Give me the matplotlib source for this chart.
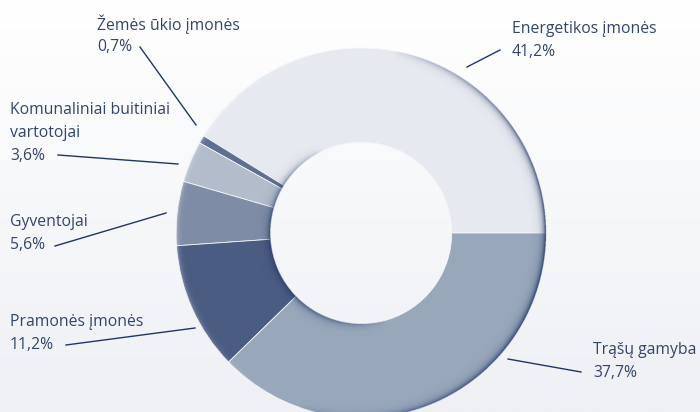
import numpy as np
import matplotlib.pyplot as plt
from matplotlib.colors import LinearSegmentedColormap, to_rgb

# data
categories = ["Energetikos įmonės", "Žemės ūkio įmonės", "Komunaliniai buitiniai\nvartotojai",
              "Gyventojai", "Pramonės įmonės", "Trąšų gamyba"]
shares = [41.2, 0.7, 3.6, 5.6, 11.2, 37.7]
pct_labels = ["41,2%", "0,7%", "3,6%", "5,6%", "11,2%", "37,7%"]

COLORS = ["#e6e9ef", "#5f6f8f", "#b2bccb", "#7e8ca5", "#4b5c82", "#98a7ba"]
TEXT_C = "#34456b"
LINE_C = "#1f3566"
SHADE_C = "#223866"

W, H = 700, 412
CX, CY, R = 361, H - 233, 185
R_IN = R * 0.49

# label layout in pixel coords (x, y of first line centre) and leader line ends
LABEL_POS = [(512, 29), (97, 24), (10, 110), (10, 222), (10, 322), (593, 350)]
LEADERS = [((467, 67), (500, 50)),
           ((196, 125), (140, 47)),
           ((178, 164), (58, 155)),
           ((166, 213), (55, 246)),
           ((195, 328), (66, 345)),
           ((508, 359), (581, 372))]

plt.rcParams["font.family"] = ["Open Sans", "DejaVu Sans"]

fig = plt.figure(figsize=(W / 100, H / 100), dpi=100)
ax = fig.add_axes([0, 0, 1, 1])

# soft background gradient, white at the top to pale grey-blue at the bottom
grad = np.linspace(0, 1, 256)[:, None]
ax.imshow(grad, extent=(0, W, 0, H), cmap=LinearSegmentedColormap.from_list(
    "bg", ["#eef0f4", "#ffffff"]), origin="lower", aspect="auto", zorder=0)

wedges, _ = ax.pie(shares, colors=COLORS, startangle=0, counterclock=True,
                   center=(CX, CY), radius=R, frame=True,
                   wedgeprops=dict(width=R - R_IN, edgecolor="#f4f6f9", linewidth=0.6))
for w in wedges:
    w.set_zorder(2)


def ang_fade(theta, mid, half):
    d = np.angle(np.exp(1j * np.radians(theta - mid)), deg=True)
    return np.clip(np.cos(np.clip(d / half, -1, 1) * np.pi / 2), 0, 1)


# bevel shading as an overlay image: dark outer rim on the right,
# shadowed hole edge on the left, faint highlight on the outer left edge
ss = 3
xs = (np.arange(W * ss) + 0.5) / ss
ys = (np.arange(H * ss) + 0.5) / ss
X, Y = np.meshgrid(xs, ys)
rr = np.hypot(X - CX, Y - CY)
th = np.degrees(np.arctan2(Y - CY, X - CX))
inside = (rr <= R) & (rr >= R_IN)

dark = 1.0 * ang_fade(th, -15, 95) ** 0.7 * np.exp(-(R - rr) / 3.0)
dark += 0.85 * ang_fade(th, 200, 85) ** 0.7 * np.exp(-(rr - R_IN) / 3.0)
dark = np.where(inside, np.clip(dark, 0, 1), 0)
light = np.where(inside, 0.45 * ang_fade(th, 175, 70) * np.exp(-(R - rr) / 2.0), 0)

ov = np.zeros((H * ss, W * ss, 4))
ov[..., :3] = to_rgb(SHADE_C)
ov[..., 3] = dark
ax.imshow(ov, extent=(0, W, 0, H), origin="lower", aspect="auto", zorder=3, interpolation="bilinear")
hl = np.ones((H * ss, W * ss, 4))
hl[..., 3] = light
ax.imshow(hl, extent=(0, W, 0, H), origin="lower", aspect="auto", zorder=3, interpolation="bilinear")

for name, pct, (x, y), (p0, p1) in zip(categories, pct_labels, LABEL_POS, LEADERS):
    lines = name.split("\n") + [pct]
    for i, t in enumerate(lines):
        ax.text(x, H - (y + i * 23), t, fontsize=11.3, color=TEXT_C, va="center", ha="left", zorder=5)
    ax.plot([p0[0], p1[0]], [H - p0[1], H - p1[1]], color=LINE_C, lw=1, zorder=5)

ax.set_xlim(0, W)
ax.set_ylim(0, H)
ax.set_aspect("auto")
ax.axis("off")

fig.savefig("out.png", dpi=100)
